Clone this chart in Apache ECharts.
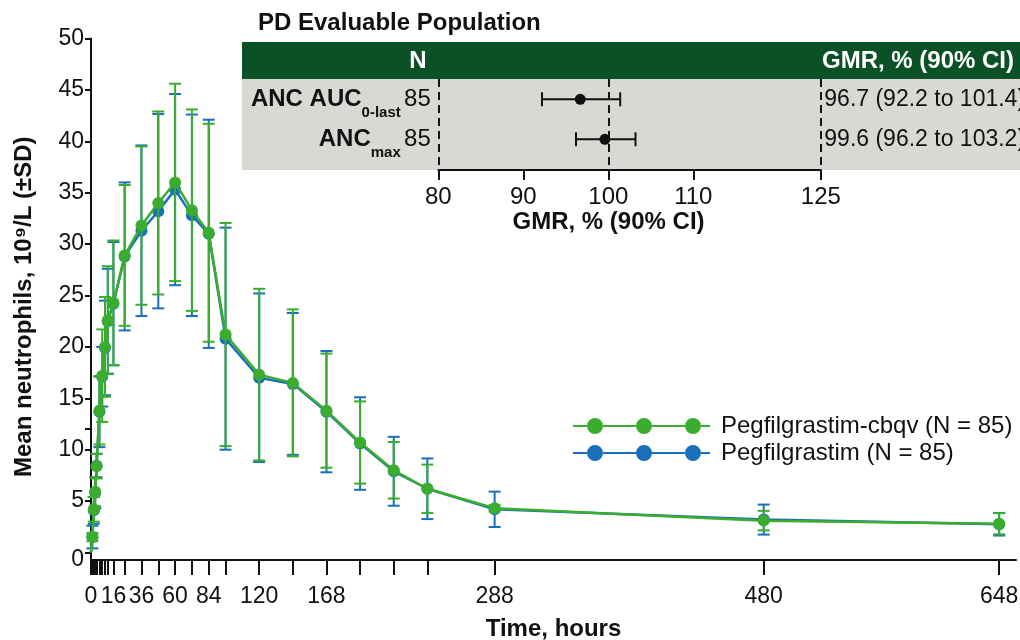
<!DOCTYPE html>
<html>
<head>
<meta charset="utf-8">
<script src="https://cdn.jsdelivr.net/npm/echarts@6/dist/echarts.min.js"></script>
<style>
  html, body { margin: 0; padding: 0; background: #fff; }
  #chart { width: 1020px; height: 640px; }
</style>
</head>
<body>
<div id="chart"></div>
<script>
// sampling times, hours
var times = [0, 1, 2, 3, 4, 6, 8, 10, 12, 16, 24, 36, 48, 60, 72, 84, 96, 120, 144, 168, 192, 216, 240, 288, 480, 648];
// Pegfilgrastim-cbqv, mean and SD (10^9/L)
var cbqvMean = [0, 1.5, 4.2, 5.9, 8.4, 13.8, 17.2, 20.0, 22.6, 24.3, 28.9, 31.8, 34.0, 36.0, 33.3, 31.1, 21.2, 17.3, 16.5, 13.8, 10.7, 8.0, 6.2, 4.3, 3.1, 2.8];
var cbqvSD = [0, 0.4, 1.2, 1.4, 1.2, 3.3, 4.5, 4.85, 5.25, 6.05, 6.85, 7.7, 8.9, 9.6, 9.8, 10.6, 10.85, 8.35, 7.15, 5.55, 4.0, 2.75, 2.35, 0.3, 0.95, 1.03];
// Pegfilgrastim, mean and SD
var refMean = [0, 1.5, 4.1, 5.8, 8.45, 13.7, 17.1, 19.9, 22.5, 24.2, 28.8, 31.3, 33.2, 35.3, 32.8, 31.0, 20.8, 17.0, 16.4, 13.7, 10.6, 7.9, 6.2, 4.2, 3.2, 2.75];
var refSD = [0, 1.1, 1.3, 1.5, 1.15, 3.45, 2.9, 4.6, 5.1, 6.0, 7.2, 8.3, 9.45, 9.3, 9.8, 11.1, 10.8, 8.2, 6.9, 5.9, 4.5, 3.35, 2.95, 1.72, 1.46, 1.1];

var seriesNames = ['Pegfilgrastim-cbqv (N = 85)', 'Pegfilgrastim (N = 85)'];
var xLabelValues = [0, 16, 36, 60, 84, 120, 168, 288, 480, 648];
var yLabelValues = [0, 5, 10, 15, 20, 25, 30, 35, 40, 45, 50];
var yTickValues = [0, 5, 10, 12, 15, 20, 25, 30, 35, 40, 45, 50];

// inset forest plot
var forestLabels = ['ANC AUC', 'ANC'];
var forestSubs = ['0-last', 'max'];
var forestN = [85, 85];
var gmr = [96.7, 99.6];
var ciLow = [92.2, 96.2];
var ciHigh = [101.4, 103.2];
var forestTicks = [80, 90, 100, 110, 125];
var forestRefLines = [80, 100, 125];

var GREEN = '#3aad2e';
var BLUE = '#1a6fbd';
var FONT = '"Liberation Sans", Arial, sans-serif';

var chart = echarts.init(document.getElementById('chart'), null, { renderer: 'canvas' });

function errorBars(name, means, sds, color, z) {
  return {
    name: name,
    type: 'custom',
    xAxisIndex: 0,
    yAxisIndex: 0,
    z: z,
    silent: true,
    data: times.map(function (t, i) { return [t, means[i] - sds[i], means[i] + sds[i]]; }),
    renderItem: function (params, api) {
      if (api.value(2) - api.value(1) <= 0) return null;
      var lo = api.coord([api.value(0), api.value(1)]);
      var hi = api.coord([api.value(0), api.value(2)]);
      var w = 6;
      var st = { stroke: color, lineWidth: 2 };
      return {
        type: 'group',
        children: [
          { type: 'line', shape: { x1: lo[0], y1: lo[1], x2: hi[0], y2: hi[1] }, style: st },
          { type: 'line', shape: { x1: lo[0] - w, y1: lo[1], x2: lo[0] + w, y2: lo[1] }, style: st },
          { type: 'line', shape: { x1: hi[0] - w, y1: hi[1], x2: hi[0] + w, y2: hi[1] }, style: st }
        ]
      };
    }
  };
}

function meanLine(name, means, color, z) {
  return {
    name: name,
    type: 'line',
    xAxisIndex: 0,
    yAxisIndex: 0,
    z: z,
    symbol: 'circle',
    symbolSize: 12,
    lineStyle: { color: color, width: 2.5 },
    itemStyle: { color: color },
    data: times.map(function (t, i) {
      return i === 0 ? { value: [t, means[i]], symbol: 'none' } : [t, means[i]];
    })
  };
}

// legend icon: line with three dots
var legendIcon = 'path://M0 7H14V9H0Z M30 7H63V9H30Z M79 7H112V9H79Z M128 7H137V9H128Z ' +
  'M14 8A8 8 0 1 0 30 8A8 8 0 1 0 14 8Z M63 8A8 8 0 1 0 79 8A8 8 0 1 0 63 8Z M112 8A8 8 0 1 0 128 8A8 8 0 1 0 112 8Z';

var option = {
  animation: false,
  backgroundColor: '#fff',
  textStyle: { fontFamily: FONT, color: '#111' },
  grid: [
    { left: 91, top: 38.5, width: 925, height: 521.5, outerBoundsMode: 'none' },
    { left: 438.3, top: 79, width: 382.5, height: 91, outerBoundsMode: 'none' }
  ],
  xAxis: [
    {
      gridIndex: 0,
      type: 'value',
      min: 0,
      max: 660,
      name: 'Time, hours',
      nameLocation: 'middle',
      nameGap: 57,
      nameTextStyle: { fontSize: 24, fontWeight: 'bold', color: '#111' },
      axisLine: { onZero: false, lineStyle: { color: '#111', width: 2 } },
      axisTick: { customValues: times, length: 15, lineStyle: { color: '#111', width: 2 } },
      axisLabel: { customValues: xLabelValues, fontSize: 23, color: '#111', margin: 25 },
      splitLine: { show: false }
    },
    {
      gridIndex: 1,
      type: 'value',
      min: 80,
      max: 125,
      name: 'GMR, % (90% CI)',
      nameLocation: 'middle',
      nameGap: 40,
      nameTextStyle: { fontSize: 24, fontWeight: 'bold', color: '#111', padding: [0, 42, 0, 0] },
      axisLine: { onZero: false, lineStyle: { color: '#111', width: 2 } },
      axisTick: { customValues: forestTicks, length: 10, lineStyle: { color: '#111', width: 2 } },
      axisLabel: { customValues: forestTicks, fontSize: 24, color: '#111', margin: 15 },
      splitLine: { show: false }
    }
  ],
  yAxis: [
    {
      gridIndex: 0,
      type: 'value',
      min: -0.73,
      max: 50,
      name: 'Mean neutrophils, 10\u2079/L (\u00B1SD)',
      nameLocation: 'middle',
      nameGap: 55,
      nameRotate: 90,
      nameTextStyle: { fontSize: 24, fontWeight: 'bold', color: '#111', padding: [0, 15, 0, 0] },
      axisLine: { onZero: false, lineStyle: { color: '#111', width: 2 } },
      axisTick: { customValues: yTickValues, length: 6, lineStyle: { color: '#111', width: 2 } },
      axisLabel: {
        customValues: yLabelValues, fontSize: 23, color: '#111', margin: 7, lineHeight: 14,
        formatter: function (v) { return v === 0 ? '\n0' : String(v); }
      },
      splitLine: { show: false }
    },
    {
      gridIndex: 1,
      type: 'value',
      min: -0.51,
      max: 1.77,
      inverse: true,
      show: false
    }
  ],
  legend: {
    orient: 'vertical',
    left: 568,
    top: 409,
    itemWidth: 137,
    itemHeight: 16,
    itemGap: 3,
    icon: legendIcon,
    data: seriesNames,
    textStyle: { fontSize: 24, color: '#111', padding: [0, 0, 0, 6] }
  },
  graphic: [
    { type: 'rect', z: 0, shape: { x: 242, y: 79, width: 778, height: 91 }, style: { fill: '#d9d8d5' } },
    { type: 'rect', z: 0, shape: { x: 242, y: 42, width: 778, height: 37 }, style: { fill: '#0a5226' } },
    { type: 'text', z: 1, x: 258, y: 23, style: { text: 'PD Evaluable Population', fill: '#111', fontSize: 24, fontWeight: 'bold', fontFamily: FONT, textAlign: 'left', textVerticalAlign: 'middle' } },
    { type: 'text', z: 1, x: 418, y: 61, style: { text: 'N', fill: '#fff', fontSize: 24, fontWeight: 'bold', fontFamily: FONT, textAlign: 'center', textVerticalAlign: 'middle' } },
    { type: 'text', z: 1, x: 822, y: 61, style: { text: 'GMR, % (90% CI)', fill: '#fff', fontSize: 24, fontWeight: 'bold', fontFamily: FONT, textAlign: 'left', textVerticalAlign: 'middle' } }
  ],
  series: [
    errorBars('ref sd', refMean, refSD, BLUE, 2),
    meanLine(seriesNames[1], refMean, BLUE, 3),
    errorBars('cbqv sd', cbqvMean, cbqvSD, GREEN, 4),
    meanLine(seriesNames[0], cbqvMean, GREEN, 5),
    // forest plot: reference lines
    {
      type: 'line',
      xAxisIndex: 1,
      yAxisIndex: 1,
      data: [],
      z: 3,
      markLine: {
        silent: true,
        symbol: 'none',
        label: { show: false },
        lineStyle: { color: '#111', width: 2, type: [8, 5] },
        data: forestRefLines.map(function (v) { return { xAxis: v }; })
      }
    },
    // CI whiskers
    {
      type: 'custom',
      xAxisIndex: 1,
      yAxisIndex: 1,
      z: 4,
      silent: true,
      data: gmr.map(function (g, i) { return [ciLow[i], ciHigh[i], i]; }),
      renderItem: function (params, api) {
        var a = api.coord([api.value(0), api.value(2)]);
        var b = api.coord([api.value(1), api.value(2)]);
        var h = 7;
        var st = { stroke: '#111', lineWidth: 2 };
        return {
          type: 'group',
          children: [
            { type: 'line', shape: { x1: a[0], y1: a[1], x2: b[0], y2: b[1] }, style: st },
            { type: 'line', shape: { x1: a[0], y1: a[1] - h, x2: a[0], y2: a[1] + h }, style: st },
            { type: 'line', shape: { x1: b[0], y1: b[1] - h, x2: b[0], y2: b[1] + h }, style: st }
          ]
        };
      }
    },
    // point estimates
    {
      type: 'scatter',
      xAxisIndex: 1,
      yAxisIndex: 1,
      z: 5,
      symbol: 'circle',
      symbolSize: 11,
      itemStyle: { color: '#111', opacity: 1 },
      data: gmr.map(function (g, i) { return [g, i]; })
    },
    // row labels with N
    {
      type: 'scatter',
      xAxisIndex: 1,
      yAxisIndex: 1,
      z: 5,
      symbolSize: 1,
      itemStyle: { color: 'rgba(0,0,0,0)', opacity: 1 },
      data: forestN.map(function (n, i) { return [80, i]; }),
      label: {
        show: true,
        position: 'left',
        distance: 7,
        formatter: function (p) {
          var i = p.dataIndex;
          return '{b|' + forestLabels[i] + '}{s|' + forestSubs[i] + '} {n|' + forestN[i] + '}';
        },
        rich: {
          b: { fontSize: 24, fontWeight: 'bold', color: '#111', fontFamily: FONT, verticalAlign: 'middle' },
          s: { fontSize: 15, fontWeight: 'bold', color: '#111', fontFamily: FONT, verticalAlign: 'middle', padding: [27, 0, 0, 0] },
          n: { fontSize: 24, color: '#111', fontFamily: FONT, verticalAlign: 'middle' }
        }
      }
    },
    // GMR text column
    {
      type: 'scatter',
      xAxisIndex: 1,
      yAxisIndex: 1,
      z: 5,
      symbolSize: 1,
      itemStyle: { color: 'rgba(0,0,0,0)', opacity: 1 },
      data: gmr.map(function (g, i) { return [125, i]; }),
      label: {
        show: true,
        position: 'right',
        distance: 3,
        fontSize: 23,
        color: '#111',
        formatter: function (p) {
          var i = p.dataIndex;
          return gmr[i].toFixed(1) + ' (' + ciLow[i].toFixed(1) + ' to ' + ciHigh[i].toFixed(1) + ')';
        }
      }
    }
  ]
};

chart.setOption(option);
</script>
</body>
</html>
